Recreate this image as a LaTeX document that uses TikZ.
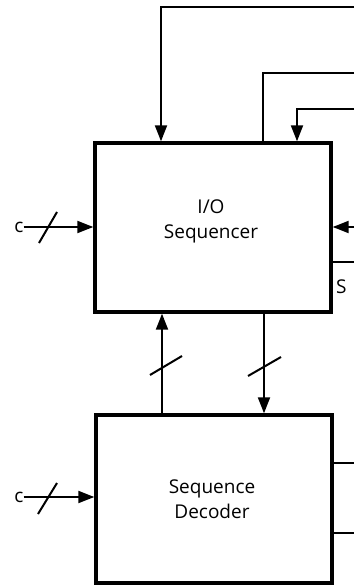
\documentclass[tikz,border=0pt]{standalone}
\usepackage{fontspec}
\setmainfont{Open Sans}
\usetikzlibrary{arrows.meta}
\begin{document}
\begin{tikzpicture}[x=1pt,y=-1pt,
  blk/.style={draw,line width=3.4pt,minimum width=236pt,inner sep=0pt},
  txt/.style={align=center,inner sep=0pt,font=\fontsize{19}{25}\selectfont},
  wire/.style={line width=2pt},
  arr/.style={wire,-{Triangle[length=16pt,width=12pt]}},
  lbl/.style={font=\fontsize{19}{22}\selectfont,inner sep=0pt}]
\useasboundingbox (0,0) rectangle (354,585);
\node[blk,minimum height=169pt] (io) at (213,227.5) {};
\node[txt] (iot) at (211,221) {I/O\\Sequencer};
\node[blk,minimum height=168pt] (dec) at (214,499) {};
\node[txt] (dect) at (212,499) {Sequence\\Decoder};
% top feedback lines
\coordinate (t1) at (354,7);
\coordinate (t2) at (354,73);
\coordinate (t3) at (354,109);
\draw[arr] (t1) -| (io.north -| 161,0);
\draw[wire] (t2) -| (io.north -| 263,0);
\draw[arr] (t3) -| (io.north -| 297,0);
% left inputs
\node[lbl] (c1) at (19,227) {c};
\node[lbl] (c2) at (19,497) {c};
\draw[arr] (c1.east) -- (io.west |- c1.east);
\draw[wire] (39,243) -- (57,212);
\draw[arr] (c2.east) -- (dec.west |- c2.east);
\draw[wire] (38,514) -- (57,483);
% between boxes
\draw[arr] (dec.north -| 162,0) -- (io.south -| 162,0);
\draw[wire] (150,375) -- (182,356);
\draw[arr] (io.south -| 264,0) -- (dec.north -| 264,0);
\draw[wire] (248,376) -- (281,357);
% right side
\coordinate (r1) at (354,227);
\draw[arr] (r1) -- (io.east |- r1);
\coordinate (r2) at (354,262);
\draw[wire] (io.east |- r2) -- (r2);
\node[lbl,anchor=west] (s) at (336,287) {S};
\coordinate (r3) at (354,463);
\coordinate (r4) at (354,533);
\draw[wire] (dec.east |- r3) -- (r3);
\draw[wire] (dec.east |- r4) -- (r4);
\end{tikzpicture}
\end{document}
